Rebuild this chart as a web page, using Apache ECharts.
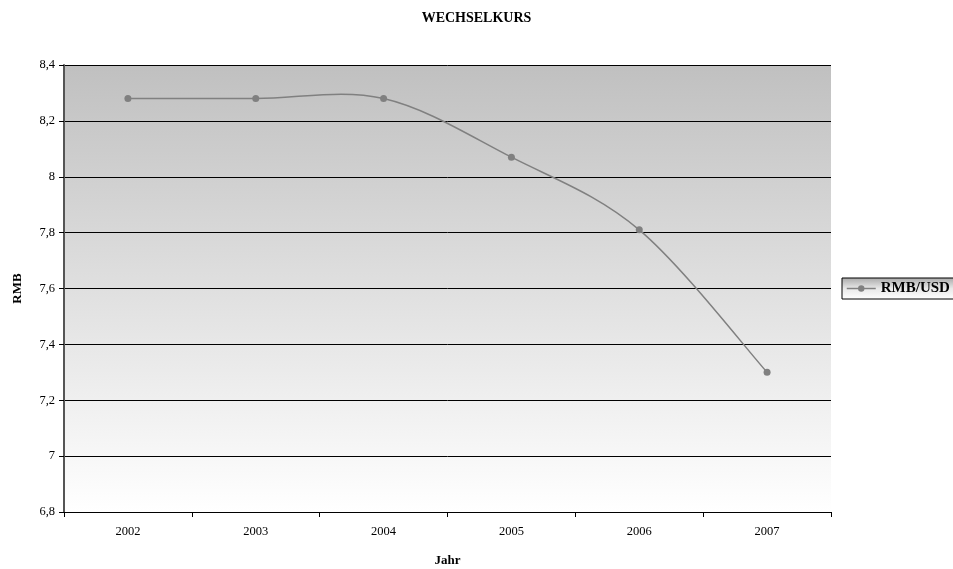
<!DOCTYPE html>
<html>
<head>
<meta charset="utf-8">
<script src="https://cdn.jsdelivr.net/npm/echarts@6/dist/echarts.min.js"></script>
<style>
  html, body { margin: 0; padding: 0; background: #fff; }
  #chart { width: 953px; height: 569px; }
</style>
</head>
<body>
<div id="chart"></div>
<script>
// Exchange rate RMB per USD, 2002–2007
const years = ['2002', '2003', '2004', '2005', '2006', '2007'];
const rmbPerUsd = [8.28, 8.28, 8.28, 8.07, 7.81, 7.30];
const seriesName = 'RMB/USD';

const FONT = '"Liberation Serif", "DejaVu Serif", serif';
const LINE_COLOR = '#808080';
const chart = echarts.init(document.getElementById('chart'));

// Spreadsheet-style smoothed line: one cubic Bézier per segment,
// control points from neighbouring points (Catmull-Rom, tension 1/6).
function renderSegment(params, api) {
  const n = rmbPerUsd.length;
  const i = params.dataIndex;
  const pt = k => {
    const j = Math.max(0, Math.min(n - 1, k));
    return api.coord([j, rmbPerUsd[j]]);
  };
  const p0 = pt(i - 1), p1 = pt(i), p2 = pt(i + 1), p3 = pt(i + 2);
  return {
    type: 'bezierCurve',
    shape: {
      x1: p1[0], y1: p1[1],
      cpx1: p1[0] + (p2[0] - p0[0]) / 6, cpy1: p1[1] + (p2[1] - p0[1]) / 6,
      cpx2: p2[0] - (p3[0] - p1[0]) / 6, cpy2: p2[1] - (p3[1] - p1[1]) / 6,
      x2: p2[0], y2: p2[1]
    },
    style: { stroke: LINE_COLOR, lineWidth: 1.5, fill: null }
  };
}

chart.setOption({
  backgroundColor: '#ffffff',
  animation: false,
  textStyle: { fontFamily: FONT },
  title: {
    text: 'WECHSELKURS',
    left: 'center',
    top: 6,
    textStyle: { fontFamily: FONT, fontSize: 14, fontWeight: 'bold', color: '#000' }
  },
  legend: {
    data: [seriesName],
    left: 842,
    top: 278,
    orient: 'vertical',
    padding: [3, 5, 3, 4],
    itemWidth: 29,
    itemHeight: 8,
    itemGap: 0,
    borderColor: '#000',
    borderWidth: 1,
    lineStyle: { color: LINE_COLOR, width: 1.5, opacity: 1 },
    backgroundColor: new echarts.graphic.LinearGradient(0, 0, 0, 1, [
      { offset: 0, color: '#a8a8a8' },
      { offset: 0.5, color: '#e8e8e8' },
      { offset: 1, color: '#ffffff' }
    ]),
    textStyle: { fontFamily: FONT, fontSize: 15, fontWeight: 'bold', color: '#000' }
  },
  grid: {
    left: 64,
    right: 122,
    top: 65,
    bottom: 57,
    containLabel: false,
    outerBoundsMode: 'none',
    show: true,
    borderWidth: 0,
    backgroundColor: new echarts.graphic.LinearGradient(0, 0, 0, 1, [
      { offset: 0, color: '#c0c0c0' },
      { offset: 1, color: '#ffffff' }
    ])
  },
  xAxis: {
    type: 'category',
    data: years,
    boundaryGap: true,
    name: 'Jahr',
    nameLocation: 'middle',
    nameGap: 42,
    nameTextStyle: { fontFamily: FONT, fontSize: 13, fontWeight: 'bold', color: '#000' },
    axisLine: { lineStyle: { color: '#000', width: 1 } },
    axisTick: { show: true, alignWithLabel: false, length: 5, lineStyle: { color: '#000' } },
    axisLabel: { fontFamily: FONT, fontSize: 12.5, color: '#000', margin: 13 },
    splitLine: { show: false }
  },
  yAxis: {
    type: 'value',
    min: 6.8,
    max: 8.4,
    interval: 0.2,
    name: 'RMB',
    nameLocation: 'middle',
    nameGap: 40,
    nameRotate: 90,
    nameTextStyle: { fontFamily: FONT, fontSize: 13, fontWeight: 'bold', color: '#000' },
    axisLine: { show: true, lineStyle: { color: '#555', width: 2 } },
    axisTick: { show: true, length: 5, lineStyle: { color: '#000' } },
    axisLabel: {
      fontFamily: FONT, fontSize: 12.5, color: '#000', margin: 9,
      formatter: v => String(Math.round(v * 10) / 10).replace('.', ',')
    },
    splitLine: { show: true, lineStyle: { color: '#000', width: 1 } }
  },
  series: [
    {
      name: 'curve',
      type: 'custom',
      renderItem: renderSegment,
      data: rmbPerUsd.slice(0, -1).map((v, i) => [i, v]),
      encode: { x: 0, y: 1 },
      z: 2
    },
    {
      name: seriesName,
      type: 'line',
      data: rmbPerUsd,
      symbol: 'circle',
      symbolSize: 7,
      itemStyle: { color: LINE_COLOR },
      lineStyle: { color: LINE_COLOR, width: 1.5, opacity: 0 },
      z: 3
    }
  ]
});
</script>
</body>
</html>
